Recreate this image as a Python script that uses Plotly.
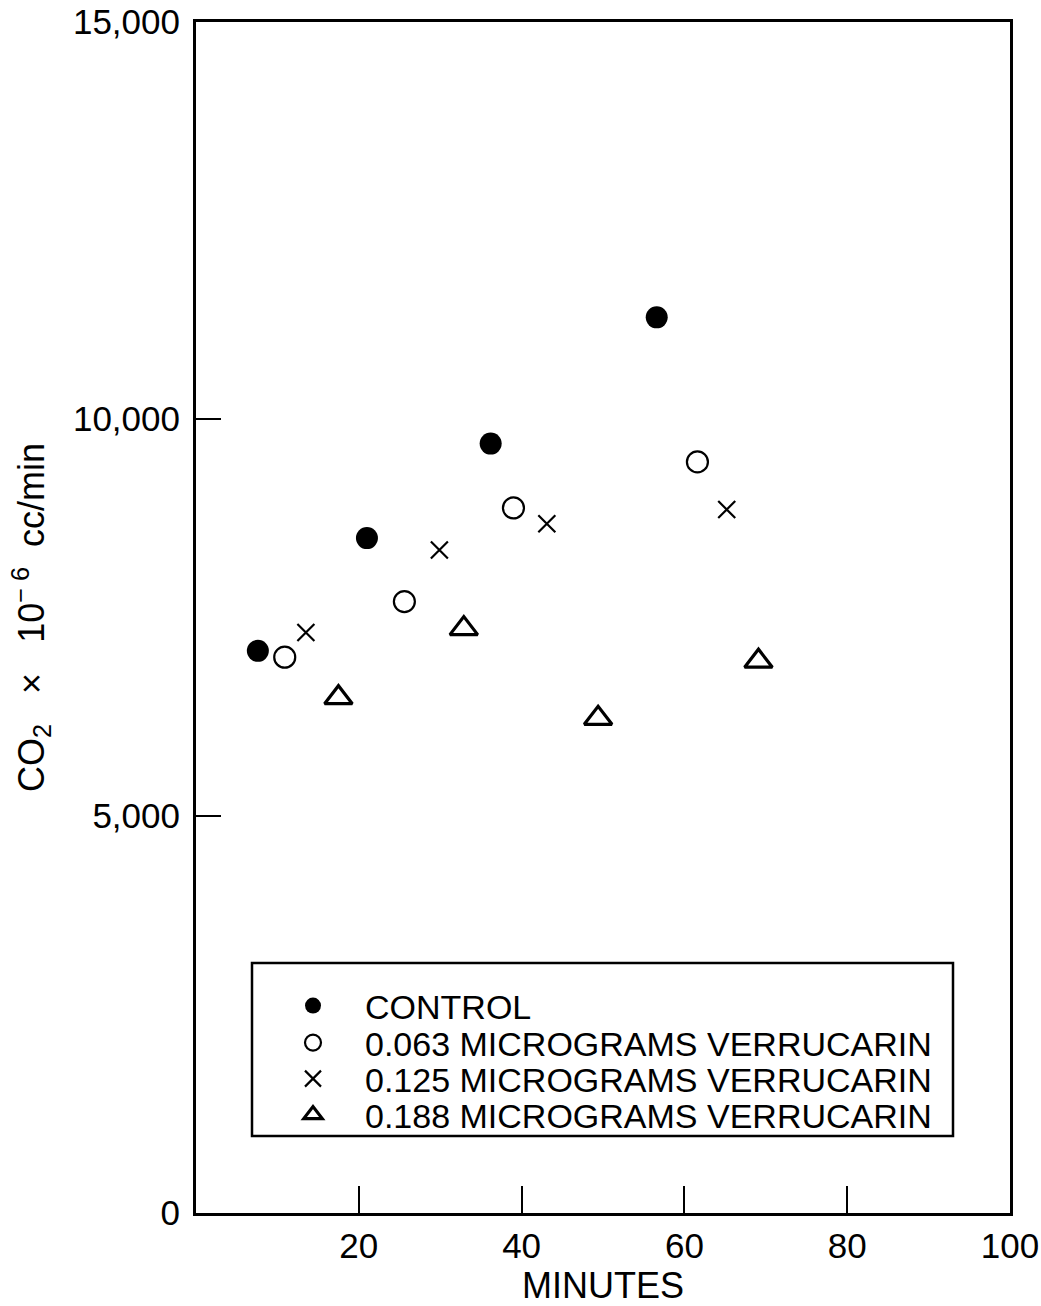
import plotly.graph_objects as go

# Elapsed time (minutes) and CO2 evolution rate (x 10^-6 cc/min) per treatment
control_min = [7.6, 21.0, 36.2, 56.6]
control_co2 = [7080, 8500, 9690, 11280]

dose063_min = [10.9, 25.6, 39.0, 61.6]
dose063_co2 = [7000, 7700, 8880, 9460]

dose125_min = [13.5, 29.9, 43.1, 65.2]
dose125_co2 = [7310, 8350, 8680, 8860]

dose188_min = [17.5, 32.9, 49.4, 69.1]
dose188_co2 = [6490, 7360, 6230, 6950]

series_names = [
    "CONTROL",
    "0.063 MICROGRAMS VERRUCARIN",
    "0.125 MICROGRAMS VERRUCARIN",
    "0.188 MICROGRAMS VERRUCARIN",
]

x_ticks = [20, 40, 60, 80, 100]
y_ticks = [0, 5000, 10000, 15000]
y_tick_text = ["0", "5,000", "10,000", "15,000"]

FONT = "Liberation Sans, Arial, Helvetica, sans-serif"
INK = "black"
NB = "\u00a0"

fig = go.Figure()

marker_styles = [
    dict(symbol="circle", size=22, color=INK, line=dict(width=0)),
    dict(symbol="circle-open", size=21, color=INK, line=dict(width=2.2, color=INK)),
    dict(symbol="x-thin-open", size=17, color=INK, line=dict(width=2.2, color=INK)),
    dict(symbol="triangle-up-open", size=24, color=INK, line=dict(width=3.2, color=INK)),
]
data = [
    (control_min, control_co2),
    (dose063_min, dose063_co2),
    (dose125_min, dose125_co2),
    (dose188_min, dose188_co2),
]
legend_ids = ["legend", "legend2", "legend3", "legend4"]

for (xs, ys), name, mk, lg in zip(data, series_names, marker_styles, legend_ids):
    fig.add_trace(go.Scatter(
        x=xs, y=ys, mode="markers", name=name, marker=mk,
        legend=lg, showlegend=True,
    ))

# plot area in pixels: x 196..1010, y 22..1213
L, R, T, B = 196, 1010, 22, 1213
W, H = R - L, B - T

def px_to_paper_y(py):
    return (B - py) / H

def px_to_paper_x(px):
    return (px - L) / W

# one single-entry legend per row so the row pitch can be set freely
row_centers = [1006, 1043, 1079, 1115]
legend_left_px = 261
legend_common = dict(
    font=dict(family=FONT, size=34, color=INK),
    bgcolor="rgba(0,0,0,0)", borderwidth=0,
    itemwidth=94, xanchor="left", yanchor="middle",
    itemclick=False, itemdoubleclick=False,
)
layout_legends = {}
for lg, yc in zip(legend_ids, row_centers):
    layout_legends[lg] = dict(
        legend_common, x=px_to_paper_x(legend_left_px), y=px_to_paper_y(yc),
    )

# legend frame
fig.add_shape(
    type="rect", xref="paper", yref="paper",
    x0=px_to_paper_x(252), x1=px_to_paper_x(953),
    y0=px_to_paper_y(1136), y1=px_to_paper_y(963),
    line=dict(color=INK, width=2.5), fillcolor="rgba(0,0,0,0)", layer="below",
)

fig.update_layout(
    width=1041, height=1306,
    margin=dict(l=L, r=1041 - R, t=T, b=1306 - B, pad=0, autoexpand=False),
    paper_bgcolor="white", plot_bgcolor="white",
    font=dict(family=FONT, color=INK),
    **layout_legends,
)

fig.update_xaxes(
    range=[0, 100], tickvals=x_ticks, ticktext=[str(v) for v in x_ticks],
    ticks="inside", ticklen=27, tickwidth=2, tickcolor=INK,
    showline=True, linewidth=3, linecolor=INK, mirror=True,
    showgrid=False, zeroline=False, automargin=False,
    tickfont=dict(family=FONT, size=35, color=INK),
    title=dict(text="MINUTES", font=dict(family=FONT, size=36, color=INK), standoff=12),
)
fig.update_yaxes(
    range=[0, 15000], tickvals=y_ticks, ticktext=y_tick_text,
    ticks="inside", ticklen=25, tickwidth=2, tickcolor=INK,
    showline=True, linewidth=3, linecolor=INK, mirror=True,
    showgrid=False, zeroline=False, automargin=False,
    tickfont=dict(family=FONT, size=35, color=INK), ticklabelstandoff=6,
    title=dict(
        text=("CO<sub>2</sub>" + NB * 3 + "×" + NB * 3 + "10"
              + "<sup>−" + NB + "6</sup>" + NB * 2 + "cc/min"),
        font=dict(family=FONT, size=36, color=INK), standoff=18,
    ),
)

fig.write_html("out.html")
